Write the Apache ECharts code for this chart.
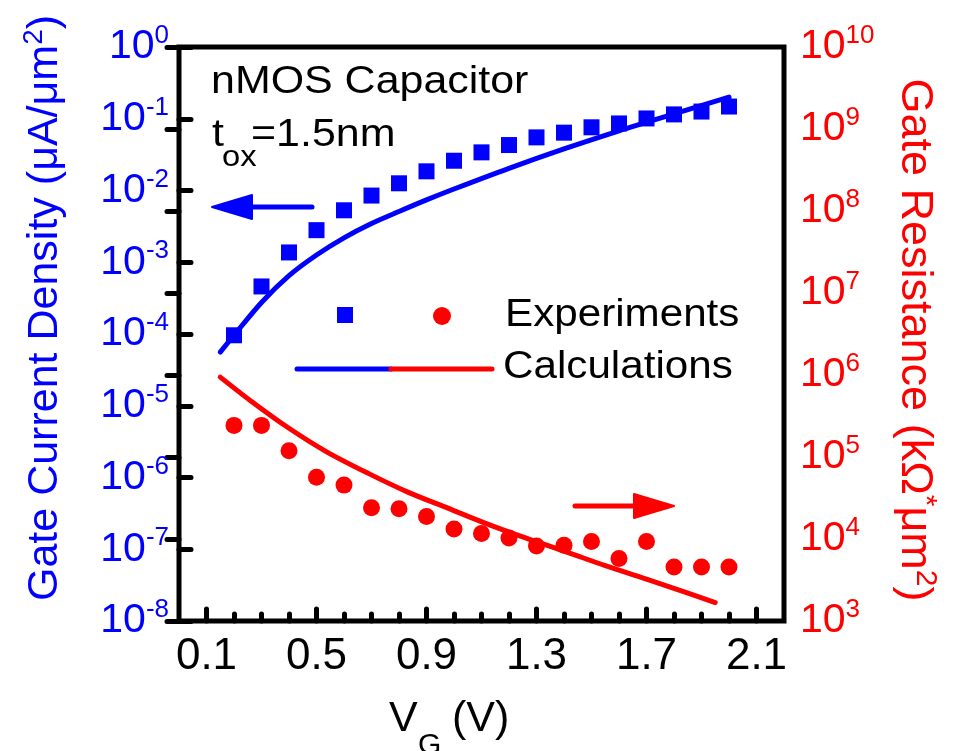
<!DOCTYPE html>
<html>
<head>
<meta charset="utf-8">
<script src="https://cdn.jsdelivr.net/npm/echarts@6/dist/echarts.min.js"></script>
<style>
  html, body { margin: 0; padding: 0; background: #fff; }
  #chart { width: 959px; height: 751px; }
</style>
</head>
<body>
<div id="chart"></div>
<script>
const FONT = '"Liberation Sans", Arial, sans-serif';
const BLUE = '#0000ff';
const RED = '#ff0000';

// Gate voltage of the measured points (V)
const vgMeasured = [0.2, 0.3, 0.4, 0.5, 0.6, 0.7, 0.8, 0.9, 1.0, 1.1, 1.2, 1.3, 1.4, 1.5, 1.6, 1.7, 1.8, 1.9, 2.0];
// Measured gate current density (uA/um^2)
const jMeasured = [9.6e-5, 4.6e-4, 1.37e-3, 2.8e-3, 5.3e-3, 8.5e-3, 1.26e-2, 1.85e-2, 2.6e-2, 3.4e-2, 4.3e-2, 5.5e-2, 6.4e-2, 7.6e-2, 8.6e-2, 0.101, 0.115, 0.126, 0.148];
// Measured gate resistance (kOhm*um^2)
const rMeasured = [2.43e5, 2.43e5, 1.19e5, 5.65e4, 4.54e4, 2.41e4, 2.34e4, 1.88e4, 1.32e4, 1.17e4, 1.03e4, 8.2e3, 8.4e3, 9.3e3, 5.8e3, 9.3e3, 4.57e3, 4.57e3, 4.57e3];

// Calculated gate current density
const vgCalcJ = [0.15, 0.2, 0.3, 0.4, 0.5, 0.6, 0.7, 0.8, 0.9, 1.0, 1.2, 1.4, 1.6, 1.8, 2.0];
const jCalc = [5.6e-5, 9.6e-5, 2.75e-4, 6.5e-4, 1.26e-3, 2.19e-3, 3.47e-3, 5.1e-3, 7.4e-3, 1.05e-2, 2.04e-2, 3.8e-2, 6.8e-2, 0.117, 0.2];

// Calculated gate resistance
const vgCalcR = [0.15, 0.26, 0.40, 0.54, 0.69, 0.83, 0.98, 1.12, 1.26, 1.41, 1.55, 1.70, 1.84, 1.95];
const rCalc = [9.42e5, 4.86e5, 2.24e5, 1.14e5, 6.27e4, 3.76e4, 2.36e4, 1.53e4, 1.03e4, 6.93e3, 4.73e3, 3.25e3, 2.25e3, 1.68e3];

// Bottom axis ticks
const xMajorTicks = [0.1, 0.5, 0.9, 1.3, 1.7, 2.1];
const xMinorTicks = [0.2, 0.3, 0.4, 0.6, 0.7, 0.8, 1.0, 1.1, 1.2, 1.4, 1.5, 1.6, 1.8, 1.9, 2.0];

const zip = (xs, ys) => xs.map((x, i) => [x, ys[i]]);

const powLabel = v => '{b|10}{e|' + Math.round(Math.log10(v)) + '}';
const powRich = color => ({
  b: { fontFamily: FONT, fontSize: 41, lineHeight: 48, color: color },
  e: { fontFamily: FONT, fontSize: 26, lineHeight: 24, verticalAlign: 'top', color: color }
});

const tickStyle = { color: '#000', width: 5, cap: 'round' };

const chart = echarts.init(document.getElementById('chart'), null, { renderer: 'canvas' });

// Plain text helper for the annotations (slightly widened like the axis lettering)
const txt = (text, x, y, size, color, sx) => ({
  type: 'text', x: x, y: y, z: 100, scaleX: sx || 1,
  style: {
    text: text, fill: color || '#000', font: size + 'px ' + FONT,
    textAlign: 'left', textVerticalAlign: 'middle', align: 'left', verticalAlign: 'middle'
  }
});

chart.setOption({
  animation: false,
  backgroundColor: '#fff',
  grid: {
    left: 179, right: 175, top: 47, bottom: 130,
    show: true, borderColor: '#000', borderWidth: 5, backgroundColor: 'transparent'
  },
  xAxis: [
    {
      type: 'value', min: 0, max: 2.2, position: 'bottom',
      axisLine: { show: false },
      splitLine: { show: false },
      axisTick: { show: true, inside: true, length: 12, customValues: xMajorTicks, lineStyle: tickStyle },
      axisLabel: {
        show: true, customValues: xMajorTicks, margin: 14,
        formatter: v => v.toFixed(1),
        fontFamily: FONT, fontSize: 44, color: '#000'
      }
    },
    {
      type: 'value', min: 0, max: 2.2, position: 'bottom',
      axisLine: { show: false },
      splitLine: { show: false },
      axisTick: { show: true, inside: true, length: 7, customValues: xMinorTicks, lineStyle: tickStyle },
      axisLabel: { show: false }
    }
  ],
  yAxis: [
    {
      type: 'log', logBase: 10, min: 1e-8, max: 1, splitNumber: 8, position: 'left',
      axisLine: { show: false },
      splitLine: { show: false },
      axisTick: { show: true, inside: true, length: 12, lineStyle: tickStyle },
      axisLabel: { formatter: powLabel, rich: powRich(BLUE), margin: 10 }
    },
    {
      type: 'log', logBase: 10, min: 1e3, max: 1e10, splitNumber: 7, position: 'right',
      axisLine: { show: false },
      splitLine: { show: false },
      axisTick: { show: true, inside: true, length: 12, lineStyle: tickStyle },
      axisLabel: { formatter: powLabel, rich: powRich(RED), margin: 16 }
    }
  ],
  series: [
    {
      name: 'Calculated J', type: 'line', xAxisIndex: 0, yAxisIndex: 0,
      data: zip(vgCalcJ, jCalc), smooth: 0.3, showSymbol: false,
      lineStyle: { color: BLUE, width: 5, cap: 'round' }, z: 3
    },
    {
      name: 'Calculated R', type: 'line', xAxisIndex: 0, yAxisIndex: 1,
      data: zip(vgCalcR, rCalc), smooth: 0.3, showSymbol: false,
      lineStyle: { color: RED, width: 5, cap: 'round' }, z: 3
    },
    {
      name: 'Measured J', type: 'scatter', xAxisIndex: 0, yAxisIndex: 0,
      data: zip(vgMeasured, jMeasured), symbol: 'rect', symbolSize: 16,
      itemStyle: { color: BLUE, opacity: 1 }, z: 4
    },
    {
      name: 'Measured R', type: 'scatter', xAxisIndex: 0, yAxisIndex: 1,
      data: zip(vgMeasured, rMeasured), symbol: 'circle', symbolSize: 17,
      itemStyle: { color: RED, opacity: 1 }, z: 4
    }
  ],
  graphic: [
    // axis titles
    {
      type: 'text', x: 45, y: 308, rotation: Math.PI / 2, z: 100,
      style: {
        text: '{t|Gate Current Density (μA/μm}{s|2}{t|)}',
        align: 'center', verticalAlign: 'middle', textAlign: 'center', textVerticalAlign: 'middle',
        rich: {
          t: { fontFamily: FONT, fontSize: 43, lineHeight: 50, fill: BLUE, color: BLUE },
          s: { fontFamily: FONT, fontSize: 28, lineHeight: 26, verticalAlign: 'top', fill: BLUE, color: BLUE }
        }
      }
    },
    {
      type: 'text', x: 914, y: 340, rotation: -Math.PI / 2, z: 100,
      style: {
        text: '{t|Gate Resistance (kΩ}{s|*}{t|μm}{s|2}{t|)}',
        align: 'center', verticalAlign: 'middle', textAlign: 'center', textVerticalAlign: 'middle',
        rich: {
          t: { fontFamily: FONT, fontSize: 45, lineHeight: 52, fill: RED, color: RED },
          s: { fontFamily: FONT, fontSize: 30, lineHeight: 28, verticalAlign: 'top', fill: RED, color: RED }
        }
      }
    },
    txt('V', 389, 719, 43),
    txt('G', 418, 746, 30),
    txt('(V)', 452, 719, 43),
    // annotations
    txt('nMOS Capacitor', 211, 83, 38, '#000', 1.13),
    txt('t', 212, 136, 38, '#000', 1.13),
    txt('ox', 222, 158, 29, '#000', 1.13),
    txt('=1.5nm', 251, 136, 38, '#000', 1.13),
    // arrows pointing to the matching axis
    { type: 'line', z: 100, shape: { x1: 312, y1: 207, x2: 246, y2: 207 },
      style: { stroke: BLUE, lineWidth: 5, lineCap: 'round' } },
    { type: 'polygon', z: 100, shape: { points: [[212, 207], [252, 195], [252, 219]] },
      style: { fill: BLUE, stroke: BLUE, lineWidth: 2, lineJoin: 'round' } },
    { type: 'line', z: 100, shape: { x1: 575, y1: 506, x2: 640, y2: 506 },
      style: { stroke: RED, lineWidth: 5, lineCap: 'round' } },
    { type: 'polygon', z: 100, shape: { points: [[674, 506], [634, 494], [634, 518]] },
      style: { fill: RED, stroke: RED, lineWidth: 2, lineJoin: 'round' } },
    // legend
    { type: 'rect', z: 100, shape: { x: 337, y: 307, width: 16, height: 16 }, style: { fill: BLUE } },
    { type: 'circle', z: 100, shape: { cx: 442, cy: 316, r: 9 }, style: { fill: RED } },
    txt('Experiments', 505, 316, 38, '#000', 1.11),
    { type: 'line', z: 100, shape: { x1: 297, y1: 369, x2: 391, y2: 369 },
      style: { stroke: BLUE, lineWidth: 5, lineCap: 'round' } },
    { type: 'line', z: 100, shape: { x1: 391, y1: 369, x2: 492, y2: 369 },
      style: { stroke: RED, lineWidth: 5, lineCap: 'round' } },
    txt('Calculations', 503, 368, 38, '#000', 1.11)
  ]
});
</script>
</body>
</html>
